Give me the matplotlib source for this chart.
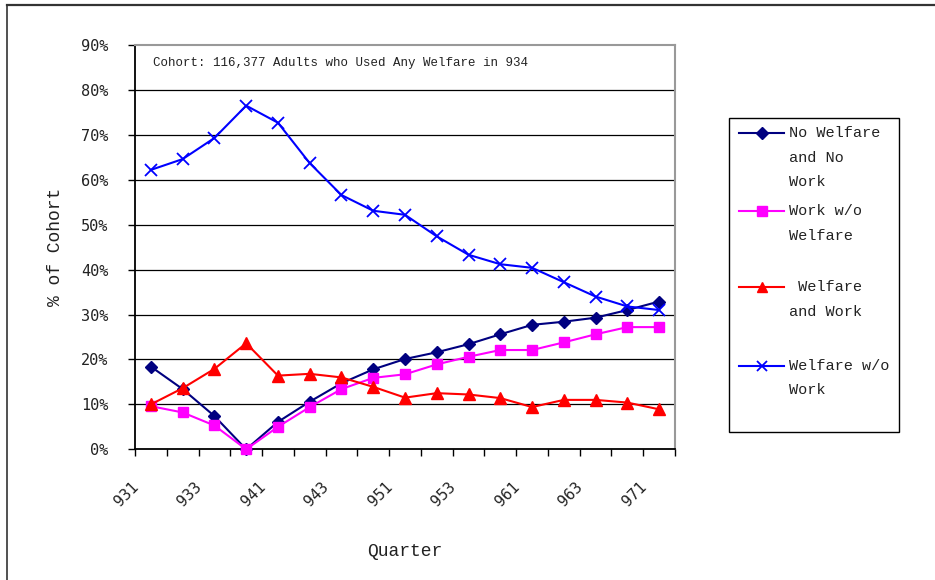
import matplotlib
matplotlib.use("Agg")
import matplotlib.pyplot as plt
import matplotlib.transforms as mtransforms
from matplotlib.lines import Line2D
from matplotlib.patches import Rectangle
from matplotlib.ticker import FuncFormatter
import numpy as np

# Quarters (year digit + quarter), cohort share by status
quarters = ["931", "932", "933", "934", "941", "942", "943", "944", "951",
            "952", "953", "954", "961", "962", "963", "964", "971"]
no_welfare_no_work = [18.4, 13.4, 7.4, 0.0, 6.1, 10.6, 14.7, 17.8, 20.1,
                      21.6, 23.4, 25.6, 27.7, 28.4, 29.3, 31.0, 32.9]
work_wo_welfare = [9.6, 8.2, 5.3, 0.0, 5.0, 9.4, 13.4, 15.9, 16.7,
                   18.9, 20.6, 22.1, 22.1, 23.8, 25.6, 27.2, 27.2]
welfare_and_work = [10.0, 13.6, 17.9, 23.6, 16.4, 16.8, 16.0, 13.9, 11.5,
                    12.5, 12.2, 11.4, 9.4, 11.0, 11.0, 10.4, 8.9]
welfare_wo_work = [62.2, 64.6, 69.3, 76.5, 72.7, 63.7, 56.6, 53.1, 52.2,
                   47.4, 43.3, 41.2, 40.4, 37.2, 34.0, 31.8, 31.0]

series_labels = ["No Welfare\nand No\nWork", "Work w/o\nWelfare",
                 " Welfare\nand Work", "Welfare w/o\nWork"]
y_ticks = [0, 10, 20, 30, 40, 50, 60, 70, 80, 90]

MONO = ["Liberation Mono", "DejaVu Sans Mono"]
TICKFONT = ["DejaVu Sans Mono"]
TEXT_COLOR = "#222222"

W, H = 935, 580
fig = plt.figure(figsize=(W / 100, H / 100), dpi=100)
fig.patch.set_facecolor("white")

# plot area in pixel terms
L, R, T, B = 135, 675, 45, 449.3
ax = fig.add_axes([L / W, 1 - B / H, (R - L) / W, (B - T) / H])

x = np.arange(len(quarters))
styles = [
    dict(color="#000080", marker="D", markersize=6.5),
    dict(color="#FF00FF", marker="s", markersize=7.5),
    dict(color="#FF0000", marker="^", markersize=8),
    dict(color="#0000FF", marker="x", markersize=8, markeredgewidth=1.3),
]
data = [no_welfare_no_work, work_wo_welfare, welfare_and_work, welfare_wo_work]
lines = []
for vals, st, lab in zip(data, styles, series_labels):
    ln, = ax.plot(x, vals, linewidth=1.5, label=lab, clip_on=False, zorder=3, **st)
    lines.append(ln)

ax.set_xlim(-0.5, len(quarters) - 0.5)
ax.set_ylim(0, 90)

# horizontal gridlines
for yv in y_ticks[1:-1]:
    ax.axhline(yv, color="black", linewidth=0.9, zorder=1)

ax.set_yticks(y_ticks)
ax.yaxis.set_major_formatter(FuncFormatter(lambda v, p: f"{int(round(v))}%"))
ax.tick_params(axis="y", direction="out", length=5, width=1, pad=14,
               labelsize=11, color="black", labelcolor=TEXT_COLOR)
for lbl in ax.get_yticklabels():
    lbl.set_family(TICKFONT)

# category boundary tick marks on the x axis
ax.set_xticks(np.arange(-0.5, len(quarters), 1.0))
ax.set_xticklabels([])
ax.tick_params(axis="x", direction="out", length=5, width=1, color="black")

# rotated quarter labels for every other category
offset = mtransforms.ScaledTranslation(-0.15, -0.35, fig.dpi_scale_trans)
trans = ax.get_xaxis_transform() + offset
for i in range(0, len(quarters), 2):
    ax.text(i, 0, quarters[i], transform=trans, rotation=45,
            rotation_mode="anchor", ha="right", va="center",
            fontsize=11, family=TICKFONT, color=TEXT_COLOR)

for side in ("left", "bottom"):
    ax.spines[side].set_color("black")
    ax.spines[side].set_linewidth(1.3)
for side in ("top", "right"):
    ax.spines[side].set_color("#999999")
    ax.spines[side].set_linewidth(1.5)

ax.set_xlabel("Quarter", fontsize=13, family=MONO, color=TEXT_COLOR)
ax.xaxis.label.set_va("center")
ax.xaxis.set_label_coords(0.5, (B - 551) / (B - T))
ax.set_ylabel("% of Cohort", fontsize=13, family=MONO, color=TEXT_COLOR)
ax.yaxis.label.set_va("center")
ax.yaxis.set_label_coords((55 - L) / (R - L), 0.5)

ax.text((153 - L) / (R - L), (B - 63) / (B - T),
        "Cohort: 116,377 Adults who Used Any Welfare in 934",
        transform=ax.transAxes, fontsize=9, family=MONO,
        ha="left", va="center", color=TEXT_COLOR)

# legend box drawn in figure pixel space
def fx(px):
    return px / W

def fy(py):
    return 1 - py / H

fig.add_artist(Rectangle((fx(729), fy(432)), fx(899) - fx(729), fy(118) - fy(432),
                         transform=fig.transFigure, facecolor="white",
                         edgecolor="black", linewidth=1.0))
entry_y = [133, 211, 287, 366]
line_step = 24.5
for ln, lab, ey in zip(lines, series_labels, entry_y):
    fig.add_artist(Line2D([fx(739), fx(784)], [fy(ey), fy(ey)],
                          transform=fig.transFigure, color=ln.get_color(),
                          linewidth=1.5))
    fig.add_artist(Line2D([fx(761.5)], [fy(ey)], transform=fig.transFigure,
                          color=ln.get_color(), marker=ln.get_marker(),
                          markersize=ln.get_markersize() * 0.9,
                          markeredgewidth=ln.get_markeredgewidth(),
                          linestyle="none"))
    for k, part in enumerate(lab.split("\n")):
        fig.text(fx(789), fy(ey + k * line_step), part, fontsize=11,
                 family=MONO, ha="left", va="center", color=TEXT_COLOR)

# outer chart frame (top and left edges)
fig.add_artist(Line2D([fx(7), fx(935)], [fy(4.5), fy(4.5)],
                      transform=fig.transFigure, color="#333333", linewidth=1.6))
fig.add_artist(Line2D([fx(7.3), fx(7.3)], [fy(4.5), fy(580)],
                      transform=fig.transFigure, color="#333333", linewidth=1.2))

fig.savefig("out.png", dpi=100, facecolor="white")
